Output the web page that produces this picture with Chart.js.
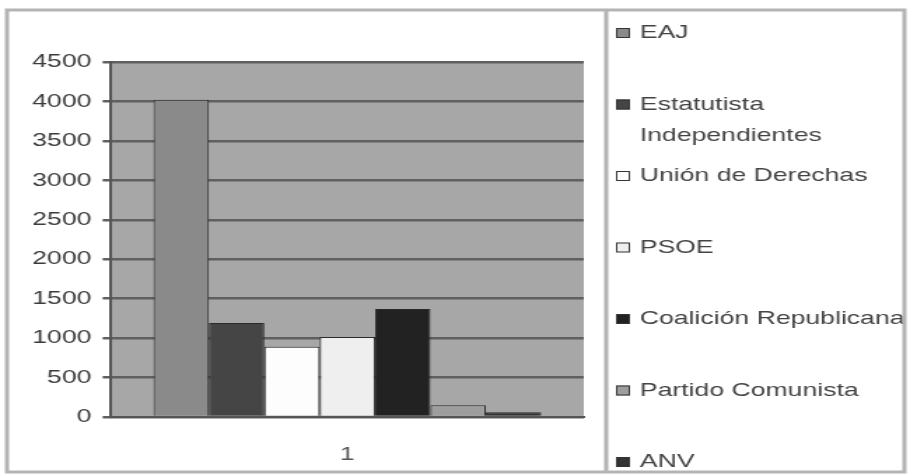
<!DOCTYPE html>
<html lang="es">
<head>
<meta charset="utf-8">
<title>Votos por partido</title>
<script src="https://cdn.jsdelivr.net/npm/chart.js@4.4.1/dist/chart.umd.min.js"></script>
<style>
  html, body { margin: 0; padding: 0; background: #fff; overflow: hidden; }
  /* la imagen original está estirada en horizontal: se dibuja a 650px y se escala */
  #lienzo { width: 650px; height: 475px; transform: scaleX(1.4); transform-origin: 0 0; }
</style>
</head>
<body>
<div id="lienzo"><canvas id="grafico"></canvas></div>
<script>
// Datos
const categorias = ['1'];
const partidos = ['EAJ', 'Estatutista Independientes', 'Unión de Derechas', 'PSOE',
                  'Coalición Republicana', 'Partido Comunista', 'ANV'];
const valores = [4020, 1190, 890, 1015, 1370, 150, 60];
const ejeYMin = 0;
const ejeYMax = 4500;
const ejeYPaso = 500;

// Colores (barra y cuadro de leyenda)
const coloresBarra = ['#8a8a8a', '#454545', '#fdfdfd', '#efefef', '#222222', '#9e9e9e', '#333333'];

const FUENTE = '"Liberation Sans", Arial, sans-serif';
Chart.defaults.font.family = FUENTE;
Chart.defaults.font.size = 19;
Chart.defaults.color = '#3c3c3c';

// Fondo gris del área de trazado
const fondoPlugin = {
  id: 'fondo',
  beforeDraw(chart) {
    const { ctx, chartArea: a } = chart;
    ctx.save();
    ctx.fillStyle = '#a7a7a7';
    ctx.fillRect(a.left, a.top, a.right - a.left, a.bottom - a.top);
    ctx.restore();
  }
};

// Parte un texto en líneas que quepan en anchoMax
function partirTexto(ctx, texto, anchoMax) {
  const palabras = texto.split(' ');
  const lineas = [];
  let actual = '';
  palabras.forEach(p => {
    const prueba = actual ? actual + ' ' + p : p;
    if (ctx.measureText(prueba).width > anchoMax && actual) {
      lineas.push(actual);
      actual = p;
    } else {
      actual = prueba;
    }
  });
  if (actual) lineas.push(actual);
  return lineas;
}

// Leyenda estilo Excel a la derecha y marco exterior
const leyendaPlugin = {
  id: 'leyenda',
  afterDraw(chart) {
    const ctx = chart.ctx;
    const xCuadro = 440;
    const xTexto = 457;
    const yInicio = 33;
    const paso = 71.5;
    ctx.save();
    ctx.font = '19px ' + FUENTE;
    ctx.textBaseline = 'middle';
    chart.data.datasets.forEach((ds, i) => {
      const y = yInicio + i * paso;
      ctx.fillStyle = ds.backgroundColor;
      ctx.fillRect(xCuadro, y - 5, 10, 10);
      ctx.strokeStyle = '#333';
      ctx.lineWidth = 1;
      ctx.strokeRect(xCuadro + 0.5, y - 4.5, 9, 9);
      ctx.fillStyle = '#444';
      partirTexto(ctx, ds.label, 200).forEach((linea, j) => {
        ctx.fillText(linea, xTexto, y + j * 31);
      });
    });
    // marco
    ctx.strokeStyle = '#b4b4b4';
    ctx.lineWidth = 3;
    ctx.strokeRect(5, 10, 641, 462);
    ctx.beginPath();
    ctx.moveTo(433, 10);
    ctx.lineTo(433, 472);
    ctx.stroke();
    ctx.restore();
  }
};

const datasets = partidos.map((nombre, i) => ({
  label: nombre,
  data: [valores[i]],
  backgroundColor: coloresBarra[i],
  borderColor: '#2a2a2a',
  borderWidth: 1,
  barPercentage: 1.0,
  categoryPercentage: 0.82
}));

new Chart(document.getElementById('grafico'), {
  type: 'bar',
  data: { labels: categorias, datasets: datasets },
  options: {
    responsive: true,
    maintainAspectRatio: false,
    animation: false,
    layout: { padding: { left: 15, top: 62, right: 233, bottom: 0 } },
    plugins: {
      legend: { display: false },
      tooltip: { enabled: false }
    },
    scales: {
      x: {
        grid: { display: false },
        border: { display: true, color: '#555', width: 2 },
        ticks: { padding: 18, color: '#555' },
        afterFit(escala) { escala.height = 58; }
      },
      y: {
        min: ejeYMin,
        max: ejeYMax,
        ticks: {
          stepSize: ejeYPaso,
          autoSkip: false,
          padding: 8,
          color: '#3c3c3c',
          callback: v => String(v)
        },
        grid: { color: '#606060', lineWidth: 2.5, tickLength: 6, drawTicks: true },
        border: { display: true, color: '#555', width: 2 }
      }
    }
  },
  plugins: [fondoPlugin, leyendaPlugin]
});
</script>
</body>
</html>
